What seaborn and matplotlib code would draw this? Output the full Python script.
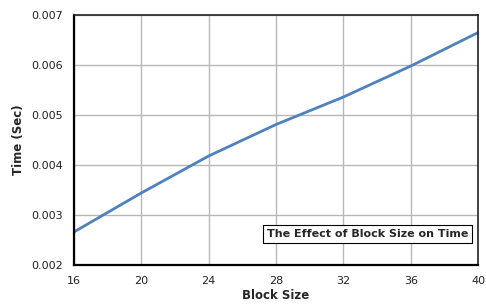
import matplotlib
matplotlib.use("Agg")
import matplotlib.pyplot as plt
import seaborn as sns
import pandas as pd

# valores
block_size = [16, 20, 24, 28, 32, 36, 40]
time_sec = [0.00266, 0.00344, 0.00418, 0.00481, 0.00536, 0.00598, 0.00665]
x_ticks = [16, 20, 24, 28, 32, 36, 40]
y_ticks = [0.002, 0.003, 0.004, 0.005, 0.006, 0.007]

df = pd.DataFrame({"Block Size": block_size, "Time (Sec)": time_sec})

sns.set_style("white")
plt.rcParams['font.family'] = ['DejaVu Sans']

fig = plt.figure(figsize=(4.86, 3.06), dpi=100)
ax = fig.add_axes([0.152, 0.134, 0.832, 0.817])

sns.lineplot(data=df, x="Block Size", y="Time (Sec)", color="#4F81BD",
             linewidth=2.0, ax=ax)

ax.set_xlim(16, 40)
ax.set_ylim(0.002, 0.007)
ax.set_xticks(x_ticks)
ax.set_yticks(y_ticks)
ax.set_yticklabels([f"{v:.3f}" for v in y_ticks])
ax.grid(True, color="#b8b8b8", linewidth=1.0)
ax.set_axisbelow(True)
ax.tick_params(axis="both", labelsize=8, length=0, colors="#222222")
ax.tick_params(axis="x", pad=8)
ax.tick_params(axis="y", pad=8)

for side in ["left", "bottom"]:
    ax.spines[side].set_linewidth(1.6)
    ax.spines[side].set_color("black")
for side in ["top", "right"]:
    ax.spines[side].set_linewidth(1.2)
    ax.spines[side].set_color("#222222")

ax.set_xlabel("Block Size", fontsize=8.5, fontweight="bold", labelpad=2)
ax.set_ylabel("Time (Sec)", fontsize=8.5, fontweight="bold", labelpad=4)

ax.text(0.975, 0.125, "The Effect of Block Size on Time", transform=ax.transAxes,
        ha="right", va="center", fontsize=8, fontweight="bold",
        bbox=dict(boxstyle="square,pad=0.35", facecolor="white", edgecolor="black", linewidth=0.8))

plt.savefig("out.png", dpi=100)
plt.close()
